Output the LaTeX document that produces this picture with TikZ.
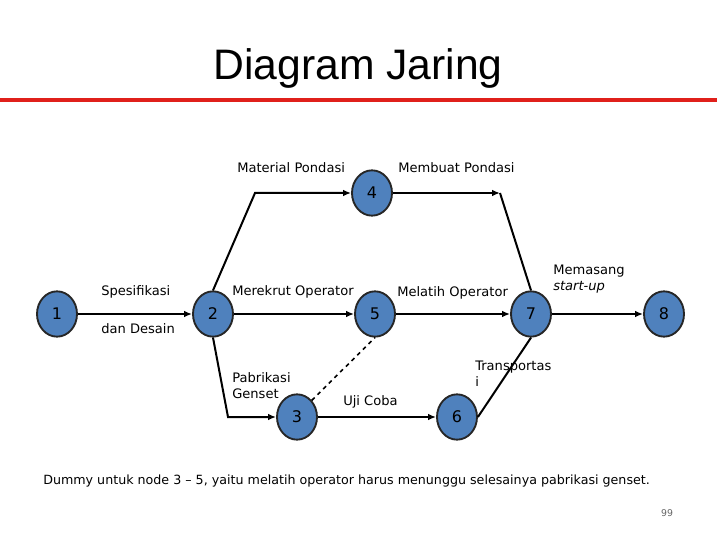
\documentclass[tikz,border=0pt]{standalone}
\usepackage{fontspec}
\setmainfont{DejaVu Sans}
\newfontfamily\titlefont{Liberation Sans}
\usetikzlibrary{arrows.meta,shapes.geometric}
\definecolor{nodeblue}{HTML}{4F81BD}
\definecolor{titlered}{HTML}{E0201B}
\begin{document}
\begin{tikzpicture}[x=0.75pt,y=-0.75pt,
  ev/.style={ellipse,minimum width=30pt,minimum height=34pt,inner sep=0pt,draw=black!85,line width=1.4pt,fill=nodeblue,font=\fontsize{12}{12}\selectfont},
  act/.style={draw,line width=1.5pt,-{Latex[length=6pt,width=5pt]}},
  lnk/.style={draw,line width=1.5pt},
  lab/.style={font=\fontsize{9.8}{12}\selectfont,inner sep=0pt}]
\useasboundingbox (0,0) rectangle (717,538);
\fill[white] (0,0) rectangle (717,538);
\node[font=\titlefont\fontsize{32}{32}\selectfont] (title) at (358,68) {Diagram Jaring};
\fill[titlered] (0,98) rectangle (717,102);
\node[ev] (n1) at (57,314) {1};
\node[ev] (n2) at (213,314) {2};
\node[ev] (n4) at (372,193) {4};
\node[ev] (n5) at (375,314) {5};
\node[ev] (n7) at (531,314) {7};
\node[ev] (n8) at (664,314) {8};
\node[ev] (n3) at (297,417) {3};
\node[ev] (n6) at (457,417) {6};
\coordinate (c24) at (255,193);
\coordinate (c47) at (500,193);
\coordinate (c23) at (228,417);
\draw[act] (n1) -- (n2);
\draw[act] (n2.north) -- (c24) -- (n4);
\draw[act] (n4) -- (c47);
\draw[lnk] (c47) -- (n7.north);
\draw[act] (n2) -- (n5);
\draw[act] (n5) -- (n7);
\draw[act] (n7) -- (n8);
\draw[act] (n2.south) -- (c23) -- (n3);
\draw[act] (n3) -- (n6);
\draw[lnk] (n6.east) -- (n7.south);
\draw[line width=1.2pt,dashed] (n3.north east) -- (n5.south);
\node[lab,anchor=west] (l1) at (101,292) {Spesifikasi};
\node[lab,anchor=west] (l1b) at (101,329) {dan Desain};
\node[lab,anchor=west] (l2) at (237,168) {Material Pondasi};
\node[lab,anchor=west] (l3) at (398,168) {Membuat Pondasi};
\node[lab,anchor=west] (l4) at (232,292) {Merekrut Operator};
\node[lab,anchor=west] (l5) at (397,293) {Melatih Operator};
\node[lab,anchor=west,align=left] (l6) at (553,279) {Memasang\\\textit{start-up}};
\node[lab,anchor=west,align=left] (l7) at (232,386) {Pabrikasi\\Genset};
\node[lab,anchor=west] (l8) at (343,402) {Uji Coba};
\node[lab,anchor=west,align=left] (l9) at (475,374) {Transportas\\i};
\node[lab,anchor=west,font=\fontsize{9.5}{12}\selectfont] (foot) at (43,481) {Dummy untuk node 3 – 5, yaitu melatih operator harus menunggu selesainya pabrikasi genset.};
\node[font=\fontsize{7}{8}\selectfont,text=black!60] (pg) at (667,513) {99};
\end{tikzpicture}
\end{document}
